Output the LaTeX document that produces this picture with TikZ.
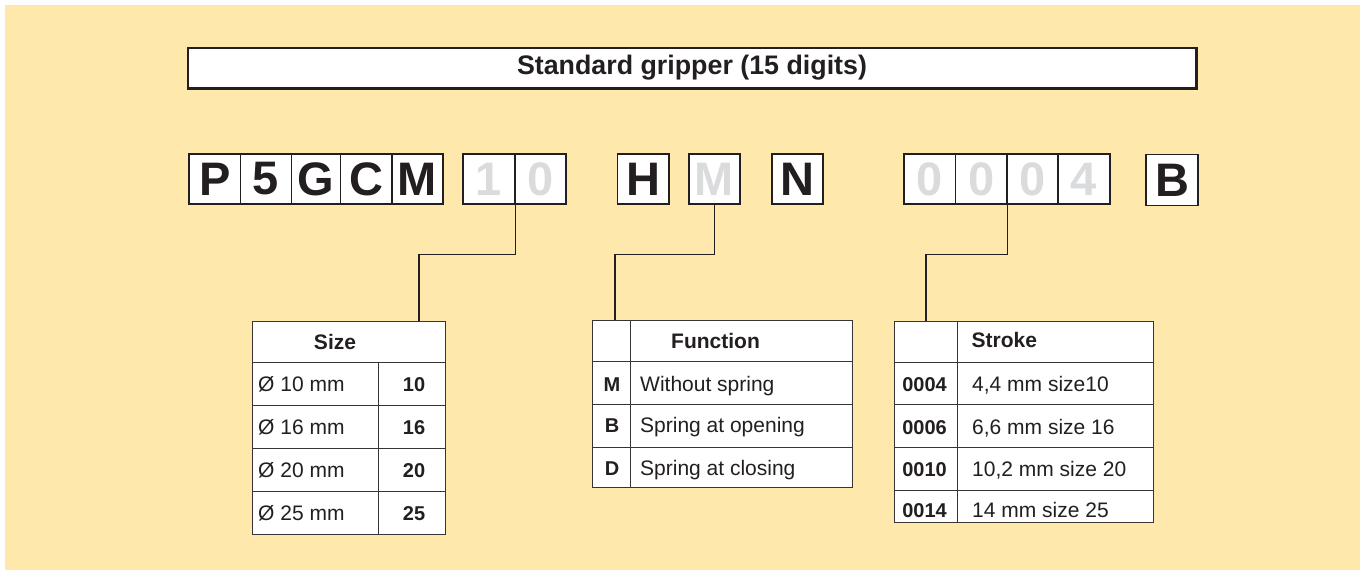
\documentclass[tikz,border=0pt]{standalone}
\usepackage{fontspec}
\setmainfont{Liberation Sans}
\usetikzlibrary{calc}
\definecolor{bgyel}{RGB}{254,232,172}
\definecolor{ink}{RGB}{35,31,32}
\definecolor{faint}{RGB}{218,219,221}
\begin{document}
\begin{tikzpicture}[x=1pt,y=-1pt,
  codebox/.style={draw=ink,line width=1.3pt,fill=white,minimum height=50pt,inner sep=0pt,
    font=\fontsize{47}{47}\selectfont\bfseries,text=ink},
  faintbox/.style={codebox,text=faint},
  tbl/.style={draw=ink!90,line width=1pt,fill=white},
  rl/.style={draw=ink!90,line width=1pt},
  conn/.style={draw=ink,line width=1.2pt},
  th/.style={font=\fontsize{21}{21}\selectfont\bfseries,text=ink,inner sep=0pt,anchor=base},
  thw/.style={th,anchor=base west},
  td/.style={font=\fontsize{21}{21}\selectfont,text=ink,inner sep=0pt,anchor=base west},
  tb/.style={font=\fontsize{20}{20}\selectfont\bfseries,text=ink,inner sep=0pt,anchor=base}]

\useasboundingbox (0,0) rectangle (1360,570);
\fill[bgyel] (5,5) rectangle (1360,570);

% title
\node[draw=ink,line width=1.2pt,fill=white,minimum width=1008pt,minimum height=40pt,inner sep=0pt,
  font=\fontsize{26.8}{26.8}\selectfont\bfseries,text=ink] (title) at (692,68) {Standard gripper (15 digits)};
\draw[ink,line width=3pt] (title.north east) -- (title.south east) -- (title.south west);

% code boxes
\node[codebox,minimum width=51.5pt] (cP) at (214.75,179) {P};
\node[codebox,minimum width=51pt] (c5) at (266,179) {5};
\node[codebox,minimum width=49pt] (cG) at (316,179) {G};
\node[codebox,minimum width=51.5pt] (cC) at (366.25,179) {C};
\node[codebox,minimum width=51pt] (cM) at (417.5,179) {M};
\node[faintbox,minimum width=52pt] (d1) at (489,179) {1};
\node[faintbox,minimum width=51pt] (d0) at (540.5,179) {0};
\node[codebox,minimum width=51.5pt] (cH) at (643.25,179) {H};
\node[faintbox,minimum width=51pt] (fm) at (714.5,179) {M};
\node[codebox,minimum width=51pt] (cN) at (797.5,179) {N};
\node[faintbox,minimum width=51.5pt] (s1) at (929.75,179) {0};
\node[faintbox,minimum width=51.5pt] (s2) at (981.25,179) {0};
\node[faintbox,minimum width=51pt] (s3) at (1032.5,179) {0};
\node[faintbox,minimum width=52pt] (s4) at (1084,179) {4};
\node[codebox,minimum width=52pt,minimum height=51pt] (cB) at (1172,180) {B};

% tables: frames
\node[tbl,minimum width=193pt,minimum height=213pt,inner sep=0pt] (size) at (348.5,427.5) {};
\node[tbl,minimum width=260pt,minimum height=167pt,inner sep=0pt] (func) at (722,403.5) {};
\node[tbl,minimum width=259pt,minimum height=201pt,inner sep=0pt] (strk) at (1023.5,421.5) {};

\coordinate (sizetop) at (419,321);
\coordinate (functop) at (615,320);
\coordinate (strktop) at (926,321);

% connectors
\draw[conn] (d1.south east) -- ++(0,49.5) -| (sizetop);
\draw[conn] (fm.south) -- ++(0,49.5) -| (functop);
\draw[conn] (s2.south east) -- ++(0,49.5) -| (strktop);

% size table rules
\draw[rl] (252,362.5) -- (445,362.5);
\draw[rl] (252,405.5) -- (445,405.5);
\draw[rl] (252,448.5) -- (445,448.5);
\draw[rl] (252,491.5) -- (445,491.5);
\draw[rl] (378,362.5) -- (378,534);
\node[th] (sizeh) at (335,349.3) {Size};
\node[td] (sr1) at (258,391) {Ø 10 mm};
\node[td] (sr2) at (258,434) {Ø 16 mm};
\node[td] (sr3) at (258,477) {Ø 20 mm};
\node[td] (sr4) at (258,520) {Ø 25 mm};
\node[tb] (sv1) at (414,391) {10};
\node[tb] (sv2) at (414,434) {16};
\node[tb] (sv3) at (414,477) {20};
\node[tb] (sv4) at (414,520) {25};

% function table rules
\draw[rl] (592,361) -- (852,361);
\draw[rl] (592,404) -- (852,404);
\draw[rl] (592,447) -- (852,447);
\draw[rl] (630,320) -- (630,487);
\node[th] (funch) at (715.5,348.7) {Function};
\node[tb] (fk1) at (612,391) {M};
\node[tb] (fk2) at (612,432.7) {B};
\node[tb] (fk3) at (612,475.7) {D};
\node[td] (fv1) at (640,391) {Without spring};
\node[td] (fv2) at (640,432.7) {Spring at opening};
\node[td] (fv3) at (640,475.7) {Spring at closing};

% stroke table rules
\draw[rl] (894,362) -- (1153,362);
\draw[rl] (894,404) -- (1153,404);
\draw[rl] (894,447) -- (1153,447);
\draw[rl] (894,490) -- (1153,490);
\draw[rl] (957,321) -- (957,522);
\node[thw] (strkh) at (971.5,347.7) {Stroke};
\node[tb] (k1) at (924.5,391.7) {0004};
\node[tb] (k2) at (924.5,434) {0006};
\node[tb] (k3) at (924.5,476.7) {0010};
\node[tb] (k4) at (924.5,517) {0014};
\node[td] (v1) at (972,391.7) {4,4 mm size10};
\node[td] (v2) at (972,434) {6,6 mm size 16};
\node[td] (v3) at (972,476.7) {10,2 mm size 20};
\node[td] (v4) at (972,517) {14 mm size 25};
\end{tikzpicture}
\end{document}
